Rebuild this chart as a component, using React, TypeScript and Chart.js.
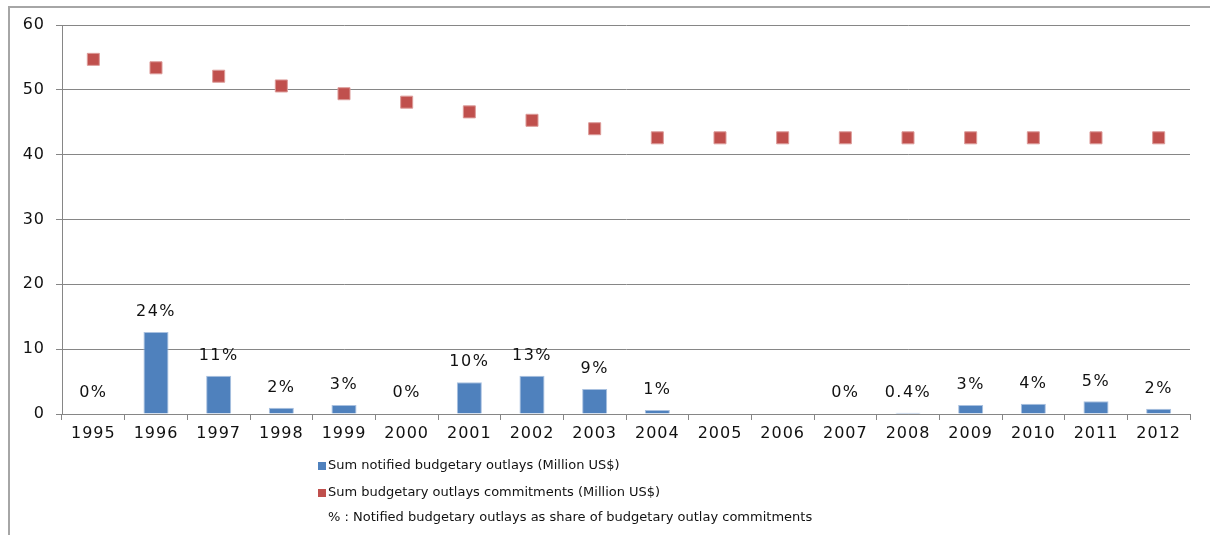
import React, { useEffect, useRef } from "react";
import { Chart, registerables } from "chart.js";

Chart.register(...registerables);

const years = ["1995","1996","1997","1998","1999","2000","2001","2002","2003","2004","2005","2006","2007","2008","2009","2010","2011","2012"];
const notifiedOutlays = [0, 12.65, 5.9, 0.95, 1.4, 0, 4.9, 5.9, 3.85, 0.6, 0, 0, 0, 0.2, 1.4, 1.6, 1.95, 0.8];
const commitments = [54.7, 53.4, 52.1, 50.6, 49.4, 48.1, 46.6, 45.3, 44.0, 42.6, 42.6, 42.6, 42.6, 42.6, 42.6, 42.6, 42.6, 42.6];
const shareLabels = ["0%","24%","11%","2%","3%","0%","10%","13%","9%","1%","","","0%","0.4%","3%","4%","5%","2%"];
const legendLabels = [
  "Sum notified budgetary outlays (Million US$)",
  "Sum budgetary outlays commitments (Million US$)",
  "% : Notified budgetary outlays as share of budgetary outlay commitments",
];

const BLUE = "#4F81BD";
const RED = "#C0504D";
const GRID = "#868686";
const FONT = "'DejaVu Sans', Verdana, sans-serif";

const overlayPlugin = {
  id: "overlay",
  beforeDraw(chart: any) {
    const ctx = chart.ctx;
    ctx.save();
    ctx.fillStyle = "#ffffff";
    ctx.fillRect(0, 0, chart.width, chart.height);
    ctx.strokeStyle = "#a6a6a6";
    ctx.lineWidth = 2;
    ctx.beginPath();
    ctx.moveTo(9, chart.height);
    ctx.lineTo(9, 7);
    ctx.lineTo(chart.width, 7);
    ctx.stroke();
    ctx.restore();
    (ctx as any).letterSpacing = "1px";
  },
  afterDatasetsDraw(chart: any) {
    const ctx = chart.ctx;
    const meta = chart.getDatasetMeta(0);
    const yScale = chart.scales.y;
    const zeroY = yScale.getPixelForValue(0);
    ctx.save();
    (ctx as any).letterSpacing = "1.5px";
    ctx.font = `16px ${FONT}`;
    ctx.fillStyle = "#111111";
    ctx.textAlign = "center";
    ctx.textBaseline = "middle";
    meta.data.forEach((bar: any, i: number) => {
      const label = shareLabels[i];
      if (!label) return;
      const y = Math.min(zeroY - 21, bar.y - 20);
      ctx.fillText(label, bar.x, y);
    });
    ctx.restore();
  },
  afterDraw(chart: any) {
    const ctx = chart.ctx;
    ctx.save();
    (ctx as any).letterSpacing = "0px";
    ctx.font = `13px ${FONT}`;
    ctx.textBaseline = "middle";
    ctx.textAlign = "left";
    const textX = 328;
    const ys = [466, 493, 518];
    const colors = [BLUE, RED, null];
    legendLabels.forEach((t, i) => {
      const c = colors[i];
      if (c) {
        ctx.fillStyle = c;
        ctx.fillRect(318, ys[i] - 4, 8, 8);
      }
      ctx.fillStyle = "#111111";
      ctx.fillText(t, textX, ys[i]);
    });
    ctx.restore();
  },
};

export default function App() {
  const ref = useRef<HTMLCanvasElement | null>(null);
  useEffect(() => {
    if (!ref.current) return;
    const chart = new Chart(ref.current, {
      type: "bar",
      data: {
        labels: years,
        datasets: [
          {
            type: "bar",
            label: legendLabels[0],
            data: notifiedOutlays,
            backgroundColor: BLUE,
            borderColor: "#a9c1e0",
            borderWidth: 1,
            barPercentage: 0.4,
            categoryPercentage: 1,
            order: 2,
          },
          {
            type: "line",
            label: legendLabels[1],
            data: commitments,
            showLine: false,
            pointStyle: "rect",
            pointRadius: 8.5,
            pointBackgroundColor: RED,
            pointBorderColor: "#dc9b99",
            pointBorderWidth: 1,
            order: 1,
          } as any,
        ],
      },
      options: {
        animation: false,
        responsive: false,
        events: [],
        layout: { padding: { left: 0, right: 20, top: 25, bottom: 0 } },
        plugins: {
          legend: { display: false },
          tooltip: { enabled: false },
          title: { display: false },
        },
        scales: {
          x: {
            offset: true,
            grid: {
              display: true,
              drawOnChartArea: false,
              drawTicks: true,
              tickLength: 6,
              color: GRID,
              offset: true,
            },
            border: { color: GRID, width: 1 },
            ticks: {
              color: "#111111",
              font: { family: FONT, size: 16 },
              padding: 4,
              maxRotation: 0,
              autoSkip: false,
            },
            afterFit(scale: any) {
              scale.height = 121;
            },
          },
          y: {
            min: 0,
            max: 60,
            ticks: {
              stepSize: 10,
              color: "#111111",
              font: { family: FONT, size: 16 },
              padding: 11,
            },
            grid: { color: GRID, tickLength: 6, drawTicks: true },
            border: { color: GRID, width: 1 },
            afterFit(scale: any) {
              scale.width = 62;
            },
          },
        },
      },
      plugins: [overlayPlugin],
    });
    return () => chart.destroy();
  }, []);
  return (
    <div style={{ position: "absolute", left: 0, top: 0, width: 1210, height: 535, overflow: "hidden" }}>
      <canvas ref={ref} width={1210} height={535} style={{ display: "block", width: 1210, height: 535 }} />
    </div>
  );
}
